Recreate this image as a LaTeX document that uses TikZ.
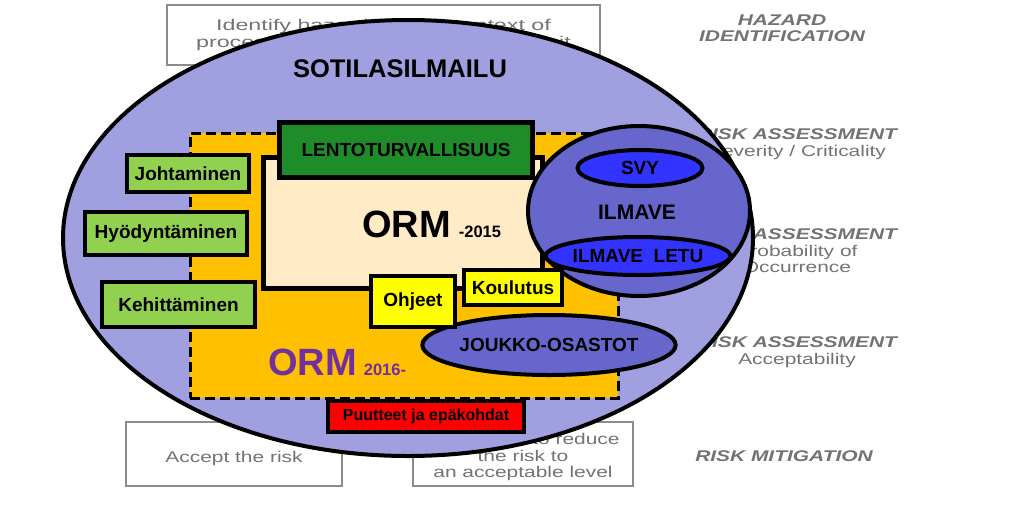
\documentclass[tikz,border=0pt]{standalone}
\usepackage{fontspec}
\setmainfont{Liberation Sans}
\usetikzlibrary{shapes.geometric}
\definecolor{lila}{RGB}{160,160,224}
\definecolor{oranssi}{RGB}{255,192,0}
\definecolor{kerma}{RGB}{255,235,198}
\definecolor{tummavihrea}{RGB}{30,140,40}
\definecolor{vaaleavihrea}{RGB}{146,208,80}
\definecolor{keltainen}{RGB}{255,255,0}
\definecolor{sinilila}{RGB}{102,102,204}
\definecolor{sininen}{RGB}{51,51,255}
\definecolor{punainen}{RGB}{255,0,0}
\definecolor{violetti}{RGB}{112,48,160}
\newcommand{\bgwide}[1]{\scalebox{1.35}[1]{#1}}
\tikzset{
  bgbox/.style={draw=black!45,line width=1.8pt,inner sep=0pt,text=black!55,align=center,font=\fontsize{15.5}{16.5}\selectfont}, % faded flowchart box
  bgtxt/.style={text=black!55,align=center,inner sep=0pt,font=\fontsize{15.5}{16.5}\selectfont},
  box/.style={draw=black,line width=4pt,inner sep=0pt,font=\fontsize{19}{22}\selectfont\bfseries},
  gbox/.style={box,fill=vaaleavihrea},
  ybox/.style={box,fill=keltainen},
  oval/.style={ellipse,draw=black,line width=4pt,inner sep=0pt,font=\fontsize{19}{22}\selectfont\bfseries},
}

\begin{document}
\begin{tikzpicture}[x=1pt,y=-1pt]
  \useasboundingbox (0,0) rectangle (1024,509);
  \fill[white] (0,0) rectangle (1024,509);
  % faded risk process in the background
  \node[bgbox,minimum width=433,minimum height=60] (tunnista) at (383.5,35) {\scalebox{1.5}[1]{Identify hazards in the context of}\\\scalebox{1.5}[1]{processes and operations of the unit}};
  \node[bgbox,minimum width=216,minimum height=64] (hyvaksy) at (234,454) {\raisebox{-4pt}[\height][\depth]{\bgwide{Accept the risk}}};
  \node[bgbox,minimum width=220,minimum height=64] (vahenna) at (523,454) {\raisebox{-4pt}[\height][\depth]{\begin{tabular}{@{}c@{}}\bgwide{Take steps to reduce}\\\bgwide{the risk to}\\\bgwide{an acceptable level}\end{tabular}}};
  \node[bgtxt,font=\fontsize{15.5}{16}\selectfont\bfseries\itshape] (hazard) at (782,28) {\bgwide{HAZARD}\\\bgwide{IDENTIFICATION}};
  \node[bgtxt] (vakavuus) at (797,144) {\bgwide{\bfseries\itshape RISK ASSESSMENT}\\\bgwide{Severity / Criticality}};
  \node[bgtxt] (todennakoisyys) at (797,251) {\bgwide{\bfseries\itshape RISK ASSESSMENT}\\\bgwide{Probability of}\\\bgwide{Occurrence}};
  \node[bgtxt] (hyvaksyttavyys) at (797,352) {\bgwide{\bfseries\itshape RISK ASSESSMENT}\\\bgwide{Acceptability}};
  \node[bgtxt,font=\fontsize{15.5}{16}\selectfont\bfseries\itshape] (mitigation) at (784,456) {\bgwide{RISK MITIGATION}};

  % sotilasilmailu
  \node[ellipse,draw=black,line width=4pt,fill=lila,minimum width=690,minimum height=436] (sotilas) at (408,238) {};
  \node[font=\fontsize{25.5}{28}\selectfont\bfseries,anchor=base] (sotilasnimi) at (400,77) {SOTILASILMAILU};
  \node[draw=black,line width=3pt,dash pattern=on 10pt off 5pt,fill=oranssi,minimum width=428,minimum height=265] (orm16) at (404,265.5) {};
  \node[text=violetti,font=\bfseries,anchor=base west,inner sep=0pt] (orm16nimi) at (268,375) {\fontsize{38}{40}\selectfont ORM\hspace{7pt}\fontsize{16.5}{18}\selectfont 2016-};
  \node[draw=black,line width=5pt,fill=kerma,minimum width=279,minimum height=131] (orm15) at (403,223) {};
  \node[font=\bfseries,anchor=base west,inner sep=0pt] (orm15nimi) at (362,237) {\fontsize{38}{40}\selectfont ORM\hspace{8pt}\fontsize{16.5}{18}\selectfont -2015};
  \node[box,line width=5pt,fill=tummavihrea,minimum width=253,minimum height=55] (lento) at (406,150) {LENTOTURVALLISUUS};

  \node[gbox,minimum width=122,minimum height=37] (johtaminen) at (188,173.5) {Johtaminen};
  \node[gbox,minimum width=162,minimum height=43] (hyodyntaminen) at (166,233.5) {Hyödyntäminen};
  \node[gbox,minimum width=153,minimum height=45] (kehittaminen) at (178.5,304.5) {Kehittäminen};

  % ilmavoimat
  \node[oval,fill=sinilila,minimum width=222,minimum height=170] (ilmave) at (639,211) {};
  \node[oval,fill=sininen,minimum width=125,minimum height=36] (svy) at (640,168) {SVY};
  \node[oval,fill=sininen,minimum width=166,minimum height=38] (letu) at (638,256) {ILMAVE~~LETU};
  \node[font=\fontsize{21}{24}\selectfont\bfseries] (ilmavenimi) at (637,212) {ILMAVE};

  \node[oval,fill=sinilila,minimum width=250,minimum height=60] (joukot) at (549,345) {JOUKKO-OSASTOT};
  \node[ybox,minimum width=98,minimum height=35] (koulutus) at (513,287.5) {Koulutus};
  \node[ybox,minimum width=84,minimum height=51] (ohjeet) at (413,301.5) {Ohjeet};
  \node[box,fill=punainen,minimum width=196,minimum height=31,font=\fontsize{16}{18}\selectfont\bfseries] (puutteet) at (426,416.5) {Puutteet ja epäkohdat};
\end{tikzpicture}
\end{document}
